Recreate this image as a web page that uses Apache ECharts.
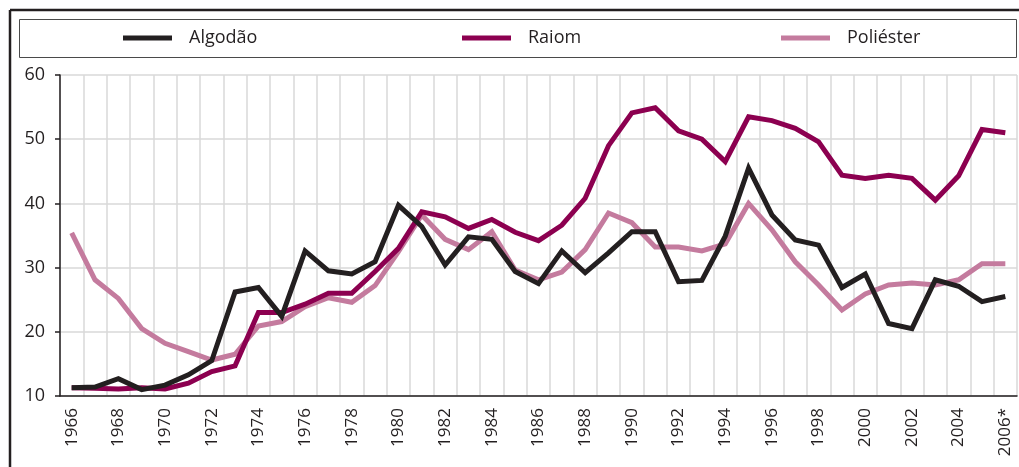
<!DOCTYPE html>
<html>
<head>
<meta charset="utf-8">
<script src="https://cdn.jsdelivr.net/npm/echarts@6/dist/echarts.min.js"></script>
<style>
  html, body { margin: 0; padding: 0; background: #fff; }
  #chart { width: 1019px; height: 467px; }
</style>
</head>
<body>
<div id="chart"></div>
<script>
// anos (o último é estimativa)
const years = ['1966', '1967', '1968', '1969', '1970', '1971', '1972', '1973', '1974', '1975',
  '1976', '1977', '1978', '1979', '1980', '1981', '1982', '1983', '1984', '1985',
  '1986', '1987', '1988', '1989', '1990', '1991', '1992', '1993', '1994', '1995',
  '1996', '1997', '1998', '1999', '2000', '2001', '2002', '2003', '2004', '2005', '2006*']

const algodao = [11.3, 11.4, 12.7, 11.0, 11.7, 13.3, 15.5, 26.2, 26.9, 22.4,
  32.6, 29.5, 29.0, 30.9, 39.7, 36.4, 30.4, 34.8, 34.4, 29.4,
  27.5, 32.6, 29.2, 32.3, 35.6, 35.6, 27.8, 28.0, 34.9, 45.5,
  38.2, 34.3, 33.5, 26.9, 29.0, 21.3, 20.5, 28.1, 27.1, 24.7, 25.5]

const raiom = [11.3, 11.2, 11.1, 11.3, 11.1, 12.0, 13.8, 14.7, 23.0, 23.0,
  24.3, 26.0, 26.0, 29.4, 33.0, 38.7, 37.9, 36.1, 37.5, 35.5,
  34.2, 36.6, 40.8, 49.0, 54.1, 54.9, 51.3, 50.0, 46.5, 53.5,
  52.9, 51.7, 49.6, 44.4, 43.9, 44.4, 43.9, 40.5, 44.3, 51.5, 51.0]

const poliester = [35.4, 28.1, 25.2, 20.5, 18.2, 16.9, 15.6, 16.5, 20.9, 21.6,
  23.9, 25.3, 24.6, 27.2, 32.5, 38.2, 34.4, 32.8, 35.6, 29.6,
  28.1, 29.3, 32.8, 38.5, 37.0, 33.2, 33.2, 32.6, 33.7, 40.0,
  35.9, 30.9, 27.3, 23.4, 25.9, 27.3, 27.6, 27.3, 28.1, 30.6, 30.6]

const yTicks = [10, 20, 30, 40, 50, 60]

const txt = '#231f20'
const fontFamily = '"Open Sans", "Noto Sans", sans-serif'
const cores = ['#231f20', '#8c0050', '#c47b9e']
const nomes = ['Algodão', 'Raiom', 'Poliéster']

const chart = echarts.init(document.getElementById('chart'))

// uma legenda por série, para acertar as posições
const legendLeft = [118, 457, 776]
const legends = nomes.map((n, i) => ({
  data: [n],
  left: legendLeft[i],
  top: 24,
  icon: 'rect',
  itemWidth: 49,
  itemHeight: 5,
  textStyle: { color: txt, fontSize: 18, fontFamily, padding: [0, 0, 0, 12] }
}))

const option = {
  animation: false,
  color: cores,
  legend: legends,
  grid: { left: 60, right: 2, top: 75, bottom: 71 },
  graphic: [
    // moldura externa
    { type: 'line', shape: { x1: 10, y1: 10, x2: 1019, y2: 10 }, style: { stroke: '#231f20', lineWidth: 2.5 } },
    { type: 'line', shape: { x1: 10, y1: 10, x2: 10, y2: 467 }, style: { stroke: '#231f20', lineWidth: 2.5 } },
    // caixa da legenda
    { type: 'rect', shape: { x: 19.5, y: 19.5, width: 997, height: 38 }, style: { fill: 'none', stroke: '#4a4a4a', lineWidth: 1 } }
  ],
  xAxis: {
    type: 'category',
    data: years,
    boundaryGap: true,
    axisLine: { lineStyle: { color: '#231f20', width: 1.5 } },
    axisTick: { interval: 0, length: 6, lineStyle: { color: '#231f20', width: 1.5 } },
    axisLabel: { interval: 1, rotate: 90, margin: 12, color: txt, fontSize: 17, fontFamily },
    splitLine: { show: true, interval: 0, lineStyle: { color: '#d9d9d9', width: 1.5 } }
  },
  yAxis: {
    type: 'value',
    min: yTicks[0],
    max: yTicks[yTicks.length - 1],
    interval: 10,
    axisLine: { show: true, lineStyle: { color: '#231f20', width: 1.5 } },
    axisTick: { show: true, length: 5, lineStyle: { color: '#231f20', width: 1.5 } },
    axisLabel: { margin: 15, color: txt, fontSize: 18, fontFamily },
    splitLine: { lineStyle: { color: '#d9d9d9', width: 1.5 } }
  },
  series: [
    { name: nomes[0], type: 'line', data: algodao },
    { name: nomes[1], type: 'line', data: raiom },
    { name: nomes[2], type: 'line', data: poliester }
  ].map((s, i) => ({
    ...s,
    symbol: 'none',
    lineStyle: { width: 5, color: cores[i], join: 'miter' },
    z: 3 - i
  }))
}

chart.setOption(option)
</script>
</body>
</html>
